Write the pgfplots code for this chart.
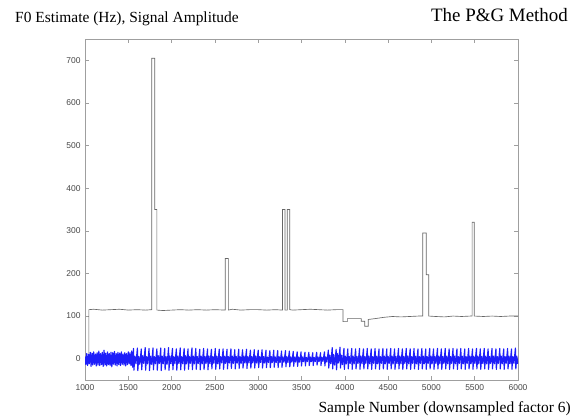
\documentclass[border=0pt]{standalone}
\usepackage{pgfplots}
\pgfplotsset{compat=1.18}
\usepackage{fontspec}
\setmainfont{Liberation Serif}
\newfontfamily\ticksans{Liberation Sans}
\definecolor{sigblue}{RGB}{30,30,250}
\begin{document}
\begin{tikzpicture}
\useasboundingbox (0,0) rectangle (573bp,419bp);
\begin{axis}[
  at={(85bp,39bp)}, anchor=south west,
  scale only axis, width=433bp, height=341bp,
  xmin=1000, xmax=6000, ymin=-50, ymax=750,
  xtick={1000,1500,...,6000}, ytick={0,100,...,700},
  scaled ticks=false,
  /pgf/number format/1000 sep={},
  /pgf/number format/assume math mode=true,
  tick label style={font=\ticksans\fontsize{8.5}{10}\selectfont, text=black!72},
  axis line style={gray!75, line width=0.7pt},
  tick style={gray!75, line width=0.5pt},
  major tick length=4bp,
  xticklabel style={yshift=-1bp},
  yticklabel style={xshift=-1bp},
]
\addplot[black!60, line width=0.65pt] coordinates {
(1000,0)(1045,0)(1045,115)(1100,116)(1200,114)(1300,115)(1400,116)(1500,114)(1600,115)(1700,114)(1770,115)
(1770,705)(1805,705)(1805,350)(1830,350)(1830,114)(1900,113)(2000,114)(2100,115)(2200,114)(2300,115)(2400,114)(2500,115)
(2620,114)(2620,235)(2655,235)(2655,114)(2700,116)(2800,114)(2900,115)(3000,115)(3100,114)(3200,115)
(3280,114)(3280,350)(3310,350)(3310,114)(3335,114)(3335,350)(3365,350)(3365,115)(3400,114)(3500,115)(3600,116)(3700,115)(3800,114)(3900,115)
(3980,115)(3980,87)(4030,87)(4030,94)(4190,94)(4190,88)(4230,88)(4230,76)(4270,76)(4270,92)(4350,94)(4450,97)(4550,99)(4650,98)(4750,99)(4850,100)
(4900,100)(4900,295)(4940,295)(4940,197)(4970,197)(4970,100)(5050,99)(5150,98)(5250,100)(5350,99)(5450,100)
(5470,100)(5470,320)(5495,320)(5495,100)(5600,99)(5700,100)(5800,99)(5900,100)(6000,100)
};
\addplot[sigblue, line width=1.15pt, line join=round] coordinates {
(1000,5)(1010,-14)(1020,12)(1030,-16)(1040,10)(1050,-12)(1060,15)(1070,-18)(1080,13)(1090,-15)
(1100,16)(1110,-13)(1120,11)(1130,-17)(1140,14)(1150,-15)(1160,18)(1170,-16)(1180,12)(1190,-14)
(1200,15)(1210,-18)(1220,20)(1230,-15)(1240,13)(1250,-17)(1260,16)(1270,-14)(1280,12)(1290,-16)
(1300,15)(1310,-19)(1320,14)(1330,-13)(1340,17)(1350,-15)(1360,12)(1370,-17)(1380,15)(1390,-14)
(1400,13)(1410,-16)(1420,16)(1430,-13)(1440,11)(1450,-15)(1460,14)(1470,-17)(1480,12)(1490,-14)
(1500,16)(1510,-12)(1520,14)(1530,-16)(1540,18)(1550,-20)
(1560,24)(1565,-27)(1576,6)(1588,-12)
(1605,25)(1610,-28)(1621,5)(1633,-13)
(1650,23)(1655,-26)(1666,7)(1678,-11)
(1695,26)(1700,-27)(1711,5)(1723,-12)
(1740,24)(1745,-28)(1756,6)(1768,-13)
(1785,25)(1790,-26)(1801,5)(1813,-12)
(1830,23)(1835,-27)(1846,7)(1858,-11)
(1875,25)(1880,-28)(1891,6)(1903,-12)
(1920,24)(1925,-26)(1936,5)(1948,-13)
(1965,26)(1970,-27)(1981,6)(1993,-12)
(2010,24)(2015,-26)(2026,5)(2038,-12)
(2055,23)(2060,-27)(2071,6)(2083,-11)
(2100,25)(2105,-26)(2116,5)(2128,-12)
(2145,24)(2150,-27)(2161,7)(2173,-12)
(2190,23)(2195,-25)(2206,5)(2218,-11)
(2235,25)(2240,-26)(2251,6)(2263,-12)
(2280,24)(2285,-25)(2296,5)(2308,-11)
(2325,22)(2330,-26)(2341,6)(2353,-12)
(2370,24)(2375,-25)(2386,5)(2398,-11)
(2415,23)(2420,-26)(2431,6)(2443,-12)
(2460,22)(2465,-24)(2476,5)(2488,-11)
(2505,24)(2510,-25)(2521,6)(2533,-12)
(2550,22)(2555,-24)(2566,5)(2578,-10)
(2595,23)(2600,-25)(2611,6)(2623,-11)
(2640,22)(2645,-24)(2656,5)(2668,-10)
(2685,23)(2690,-23)(2701,6)(2713,-11)
(2730,21)(2735,-24)(2746,5)(2758,-10)
(2775,22)(2780,-23)(2791,5)(2803,-11)
(2820,21)(2825,-22)(2836,6)(2848,-10)
(2865,22)(2870,-23)(2881,5)(2893,-10)
(2910,20)(2915,-22)(2926,5)(2938,-10)
(2955,21)(2960,-22)(2971,6)(2983,-10)
(3000,20)(3005,-21)(3016,5)(3028,-9)
(3045,21)(3050,-22)(3061,5)(3073,-10)
(3090,20)(3095,-21)(3106,4)(3118,-9)
(3135,19)(3140,-21)(3151,5)(3163,-9)
(3180,20)(3185,-20)(3196,4)(3208,-9)
(3225,19)(3230,-21)(3241,5)(3253,-9)
(3270,18)(3275,-20)(3286,4)(3298,-8)
(3315,19)(3320,-19)(3331,5)(3343,-9)
(3360,18)(3365,-19)(3376,4)(3388,-8)
(3405,17)(3410,-18)(3421,4)(3433,-8)
(3450,16)(3455,-18)(3466,4)(3478,-8)
(3495,16)(3500,-17)(3511,4)(3523,-7)
(3540,15)(3545,-17)(3556,3)(3568,-7)
(3585,15)(3590,-16)(3601,4)(3613,-7)
(3630,14)(3635,-16)(3646,3)(3658,-7)
(3675,15)(3680,-15)(3691,4)(3703,-7)
(3720,14)(3725,-16)(3736,3)(3748,-6)
(3765,16)(3770,-17)(3781,4)(3793,-8)
(3810,20)(3815,-22)(3826,8)(3838,-12)
(3855,26)(3860,-24)(3871,10)(3883,-15)
(3900,22)(3905,-26)(3916,12)(3928,-10)
(3945,27)(3950,-22)(3961,8)(3973,-14)
(3990,24)(3995,-25)(4006,6)(4018,-12)
(4035,23)(4040,-24)(4051,5)(4063,-11)
(4080,24)(4085,-25)(4096,6)(4108,-12)
(4125,23)(4130,-24)(4141,5)(4153,-11)
(4170,24)(4175,-25)(4186,6)(4198,-12)
(4215,23)(4220,-24)(4231,5)(4243,-11)
(4260,24)(4265,-24)(4276,6)(4288,-12)
(4305,23)(4310,-25)(4321,5)(4333,-11)
(4350,24)(4355,-24)(4366,6)(4378,-12)
(4395,23)(4400,-25)(4411,5)(4423,-11)
(4440,24)(4445,-24)(4456,6)(4468,-12)
(4485,23)(4490,-25)(4501,5)(4513,-11)
(4530,24)(4535,-24)(4546,6)(4558,-12)
(4575,23)(4580,-25)(4591,5)(4603,-11)
(4620,24)(4625,-24)(4636,6)(4648,-12)
(4665,23)(4670,-25)(4681,5)(4693,-11)
(4710,24)(4715,-24)(4726,6)(4738,-12)
(4755,23)(4760,-25)(4771,5)(4783,-11)
(4800,24)(4805,-24)(4816,6)(4828,-12)
(4845,23)(4850,-25)(4861,5)(4873,-11)
(4890,24)(4895,-24)(4906,6)(4918,-12)
(4935,23)(4940,-25)(4951,5)(4963,-11)
(4980,24)(4985,-24)(4996,6)(5008,-12)
(5025,23)(5030,-25)(5041,5)(5053,-11)
(5070,24)(5075,-24)(5086,6)(5098,-12)
(5115,23)(5120,-25)(5131,5)(5143,-11)
(5160,24)(5165,-24)(5176,6)(5188,-12)
(5205,23)(5210,-25)(5221,5)(5233,-11)
(5250,24)(5255,-24)(5266,6)(5278,-12)
(5295,23)(5300,-25)(5311,5)(5323,-11)
(5340,24)(5345,-24)(5356,6)(5368,-12)
(5385,23)(5390,-25)(5401,5)(5413,-11)
(5430,24)(5435,-24)(5446,6)(5458,-12)
(5475,23)(5480,-25)(5491,5)(5503,-11)
(5520,24)(5525,-24)(5536,6)(5548,-12)
(5565,23)(5570,-25)(5581,5)(5593,-11)
(5610,24)(5615,-24)(5626,6)(5638,-12)
(5655,23)(5660,-25)(5671,5)(5683,-11)
(5700,24)(5705,-24)(5716,6)(5728,-12)
(5745,23)(5750,-25)(5761,5)(5773,-11)
(5790,24)(5795,-24)(5806,6)(5818,-12)
(5835,23)(5840,-25)(5851,5)(5863,-11)
(5880,24)(5885,-24)(5896,6)(5908,-12)
(5925,23)(5930,-25)(5941,5)(5953,-11)
(5970,25)(5975,-24)(5986,6)(5998,-12)
};
\end{axis}
\node[anchor=west, inner sep=0pt] at (15bp,400bp) {\fontsize{15.5}{17}\selectfont F0 Estimate (Hz), Signal Amplitude};
\node[anchor=east, inner sep=0pt] at (568bp,404bp) {\fontsize{19}{21}\selectfont The P\&G Method};
\node[anchor=east, inner sep=0pt] at (571bp,10bp) {\fontsize{15.5}{17}\selectfont Sample Number (downsampled factor 6)};
\end{tikzpicture}
\end{document}
